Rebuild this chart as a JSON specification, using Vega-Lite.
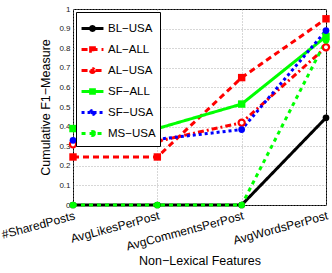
{
  "$schema": "https://vega.github.io/schema/vega-lite/v6.json",
  "width": 253,
  "height": 196,
  "autosize": "none",
  "padding": {"left": 73, "top": 9, "right": 6, "bottom": 68},
  "background": "white",
  "config": {
    "font": "Liberation Sans",
    "view": {"stroke": "black", "strokeWidth": 1}
  },
  "data": {"values": [
    {"s": "BL−USA", "f": "#SharedPosts", "v": 0},
    {"s": "BL−USA", "f": "AvgLikesPerPost", "v": 0},
    {"s": "BL−USA", "f": "AvgCommentsPerPost", "v": 0},
    {"s": "BL−USA", "f": "AvgWordsPerPost", "v": 0.445},
    {"s": "AL−ALL", "f": "#SharedPosts", "v": 0.245},
    {"s": "AL−ALL", "f": "AvgLikesPerPost", "v": 0.245},
    {"s": "AL−ALL", "f": "AvgCommentsPerPost", "v": 0.65},
    {"s": "AL−ALL", "f": "AvgWordsPerPost", "v": 0.95},
    {"s": "AL−USA", "f": "#SharedPosts", "v": 0.31},
    {"s": "AL−USA", "f": "AvgLikesPerPost", "v": 0.325},
    {"s": "AL−USA", "f": "AvgCommentsPerPost", "v": 0.42},
    {"s": "AL−USA", "f": "AvgWordsPerPost", "v": 0.805},
    {"s": "SF−ALL", "f": "#SharedPosts", "v": 0.39},
    {"s": "SF−ALL", "f": "AvgLikesPerPost", "v": 0.39},
    {"s": "SF−ALL", "f": "AvgCommentsPerPost", "v": 0.515},
    {"s": "SF−ALL", "f": "AvgWordsPerPost", "v": 0.86},
    {"s": "SF−USA", "f": "#SharedPosts", "v": 0.33},
    {"s": "SF−USA", "f": "AvgLikesPerPost", "v": 0.335},
    {"s": "SF−USA", "f": "AvgCommentsPerPost", "v": 0.385},
    {"s": "SF−USA", "f": "AvgWordsPerPost", "v": 0.89},
    {"s": "MS−USA", "f": "#SharedPosts", "v": 0},
    {"s": "MS−USA", "f": "AvgLikesPerPost", "v": 0},
    {"s": "MS−USA", "f": "AvgCommentsPerPost", "v": 0},
    {"s": "MS−USA", "f": "AvgWordsPerPost", "v": 0.84}
  ]},
  "encoding": {
    "x": {
      "field": "f", "type": "nominal",
      "sort": ["#SharedPosts", "AvgLikesPerPost", "AvgCommentsPerPost", "AvgWordsPerPost"],
      "scale": {"type": "point", "padding": 0},
      "axis": {
        "title": "Non−Lexical Features",
        "titleFontSize": 12.5, "titleFontWeight": "normal", "titleColor": "black", "titlePadding": 3,
        "labelAngle": -15, "labelAlign": "right", "labelBaseline": "top", "labelFontSize": 12, "labelColor": "black",
        "labelPadding": 5,
        "grid": true, "gridDash": [1, 2], "gridColor": "#999", "gridWidth": 0.8,
        "domain": false, "ticks": false
      }
    },
    "y": {
      "field": "v", "type": "quantitative",
      "scale": {"domain": [0, 1], "nice": false},
      "axis": {
        "title": "Cumulative F1−Measure",
        "titleFontSize": 12.5, "titleFontWeight": "normal", "titleColor": "black", "titlePadding": 6,
        "values": [0, 0.1, 0.2, 0.3, 0.4, 0.5, 0.6, 0.7, 0.8, 0.9, 1],
        "format": "~g",
        "labelFontSize": 8, "labelColor": "#222", "labelPadding": 3,
        "grid": true, "gridDash": [1, 2], "gridColor": "#999", "gridWidth": 0.8,
        "domain": false, "ticks": false
      }
    },
    "color": {
      "field": "s", "type": "nominal",
      "scale": {
        "domain": ["BL−USA", "AL−ALL", "AL−USA", "SF−ALL", "SF−USA", "MS−USA"],
        "range": ["#000000", "#ff0000", "#ff0000", "#00ff00", "#0000ff", "#00ff00"]
      }
    }
  },
  "layer": [
    {
      "mark": {"type": "line", "strokeWidth": 3},
      "encoding": {
        "strokeDash": {
          "field": "s", "type": "nominal",
          "scale": {
            "domain": ["BL−USA", "AL−ALL", "AL−USA", "SF−ALL", "SF−USA", "MS−USA"],
            "range": [[1, 0], [6, 4], [6, 3, 2, 3], [1, 0], [3, 3], [4, 4]]
          }
        },
        "color": {
          "field": "s", "type": "nominal",
          "legend": {
            "title": null, "orient": "none", "legendX": 3, "legendY": 3,
            "fillColor": "white", "strokeColor": "black", "padding": 4,
            "labelFontSize": 11.5, "labelColor": "black", "symbolStrokeWidth": 3,
            "symbolSize": 480, "rowPadding": -5, "labelOffset": 3,
            "encode": {
              "symbols": {"update": {
                "shape": {"signal": "indexof(['AL−ALL','SF−ALL'], datum.value) >= 0 ? 'M-1,0L1,0M-0.17,-0.17L0.17,-0.17L0.17,0.17L-0.17,0.17Z' : 'M-1,0L1,0M0.18,0A0.18,0.18,0,1,1,-0.18,0A0.18,0.18,0,1,1,0.18,0Z'"},
                "fill": {"signal": "datum.value == 'AL−USA' ? 'white' : scale('color', datum.value)"}
              }}
            }
          }
        }
      }
    },
    {
      "transform": [{"filter": "datum.s == 'AL−ALL' || datum.s == 'SF−ALL'"}],
      "mark": {"type": "point", "shape": "square", "filled": true, "opacity": 1, "size": 55},
      "encoding": {"color": {"field": "s", "type": "nominal", "legend": null}}
    },
    {
      "transform": [{"filter": "datum.s == 'AL−USA'"}],
      "mark": {"type": "point", "shape": "circle", "filled": false, "fill": "white", "fillOpacity": 1, "strokeWidth": 2.2, "opacity": 1, "size": 38},
      "encoding": {"color": {"field": "s", "type": "nominal", "legend": null}}
    },
    {
      "transform": [{"filter": "datum.s == 'BL−USA' || datum.s == 'SF−USA' || datum.s == 'MS−USA'"}],
      "mark": {"type": "point", "shape": "circle", "filled": true, "opacity": 1, "size": 45},
      "encoding": {"color": {"field": "s", "type": "nominal", "legend": null}}
    }
  ]
}
